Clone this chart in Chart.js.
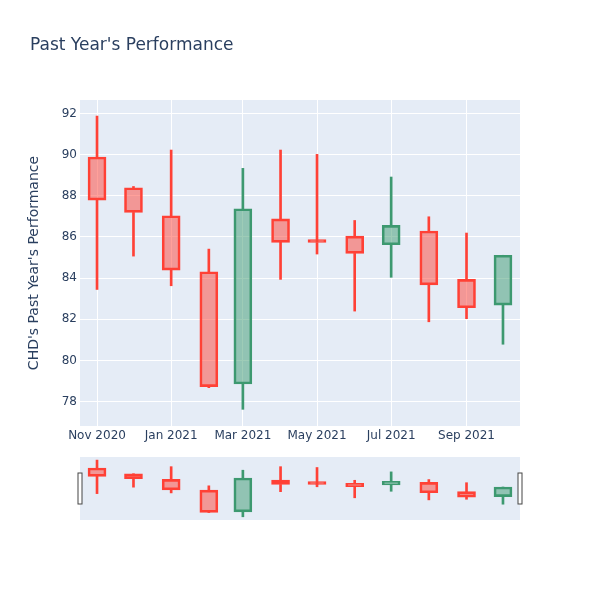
<!DOCTYPE html>
<html>
<head>
<meta charset="utf-8">
<script src="https://cdn.jsdelivr.net/npm/chart.js@4/dist/chart.umd.min.js"></script>
<style>
  body { margin: 0; background: #fff; }
  #wrap { position: relative; width: 600px; height: 600px; }
  #title { position: absolute; left: 30px; top: 34px; font: 17px "DejaVu Sans", sans-serif; color: #2a3f5f; line-height: 20px; }
  #main { position: absolute; left: 0; top: 0; }
  #slider { position: absolute; left: 0; top: 450px; }
</style>
</head>
<body>
<div id="wrap">
  <canvas id="main" width="600" height="450"></canvas>
  <canvas id="slider" width="600" height="80"></canvas>
  <div id="title">Past Year's Performance</div>
</div>
<script>
const dates = ['2020-11-01', '2020-12-01', '2021-01-01', '2021-02-01', '2021-03-01', '2021-04-01',
               '2021-05-01', '2021-06-01', '2021-07-01', '2021-08-01', '2021-09-01', '2021-10-01'];
const openVals  = [89.88, 88.39, 87.03, 84.31, 78.86, 86.88, 85.77, 86.04, 85.62, 86.29, 83.94, 82.69];
const highVals  = [91.87, 88.45, 90.22, 85.41, 89.33, 90.22, 90.01, 86.80, 88.91, 86.98, 86.19, 85.11];
const lowVals   = [83.45, 85.07, 83.63, 78.68, 77.63, 83.94, 85.17, 82.40, 84.04, 81.88, 82.03, 80.79];
const closeVals = [87.79, 87.19, 84.39, 78.73, 87.37, 85.74, 85.73, 85.20, 86.56, 83.67, 82.56, 85.11];

const xTickDates = ['2020-11-01', '2021-01-01', '2021-03-01', '2021-05-01', '2021-07-01', '2021-09-01'];
const xTickLabels = ['Nov 2020', 'Jan 2021', 'Mar 2021', 'May 2021', 'Jul 2021', 'Sep 2021'];
const yTicks = [78, 80, 82, 84, 86, 88, 90, 92];
const xRange = ['2020-10-18', '2021-10-15'];
const yRange = [76.82, 92.65];

const UP = '#3D9970', DOWN = '#FF4136';
const UP_FILL = 'rgba(61,153,112,0.5)', DOWN_FILL = 'rgba(255,65,54,0.5)';
const FONT = '"DejaVu Sans", sans-serif';
const TEXT = '#2a3f5f';

const day = s => Date.UTC(+s.slice(0, 4), +s.slice(5, 7) - 1, +s.slice(8, 10)) / 86400000;
const xs = dates.map(day);
const isUp = openVals.map((o, i) => closeVals[i] >= o);
const lineCol = isUp.map(u => u ? UP : DOWN);
const fillCol = isUp.map(u => u ? UP_FILL : DOWN_FILL);

function candleSets() {
  return [
    {
      label: 'body',
      data: xs.map((x, i) => ({ x: x, y: [openVals[i], closeVals[i]] })),
      backgroundColor: fillCol,
      borderColor: lineCol,
      borderWidth: 2,
      borderSkipped: false,
      barThickness: 18,
      minBarLength: 3,
      grouped: false,
      order: 0
    },
    {
      label: 'upper',
      data: xs.map((x, i) => ({ x: x, y: [Math.max(openVals[i], closeVals[i]), highVals[i]] })),
      backgroundColor: lineCol,
      borderWidth: 0,
      barThickness: 2,
      grouped: false,
      order: 1
    },
    {
      label: 'lower',
      data: xs.map((x, i) => ({ x: x, y: [lowVals[i], Math.min(openVals[i], closeVals[i])] })),
      backgroundColor: lineCol,
      borderWidth: 0,
      barThickness: 2,
      grouped: false,
      order: 1
    }
  ];
}

const plotBg = {
  id: 'plotBg',
  beforeDraw(chart) {
    const a = chart.chartArea, ctx = chart.ctx;
    ctx.save();
    ctx.fillStyle = '#E5ECF6';
    ctx.fillRect(a.left, a.top, a.right - a.left, a.bottom - a.top);
    ctx.restore();
  }
};

new Chart(document.getElementById('main'), {
  type: 'bar',
  data: { datasets: candleSets() },
  options: {
    responsive: false,
    animation: false,
    layout: { padding: { top: 100, right: 80, left: 0, bottom: 0 } },
    plugins: { legend: { display: false }, tooltip: { enabled: false } },
    scales: {
      x: {
        type: 'linear',
        offset: false,
        min: day(xRange[0]),
        max: day(xRange[1]),
        grid: { color: '#ffffff', lineWidth: 1, drawTicks: false, offset: false },
        border: { display: false },
        afterBuildTicks: s => { s.ticks = xTickDates.map(d => ({ value: day(d) })); },
        afterFit: s => { s.height = 24; },
        ticks: {
          padding: 3,
          color: TEXT,
          font: { family: FONT, size: 12 },
          maxRotation: 0,
          autoSkip: false,
          callback: (v, i) => xTickLabels[i]
        }
      },
      y: {
        min: yRange[0],
        max: yRange[1],
        grid: { color: '#ffffff', lineWidth: 1, drawTicks: false },
        border: { display: false },
        afterBuildTicks: s => { s.ticks = yTicks.map(v => ({ value: v })); },
        afterFit: s => { s.width = 80; },
        ticks: {
          padding: 3,
          color: TEXT,
          font: { family: FONT, size: 12 },
          callback: v => String(v)
        },
        title: {
          display: true,
          text: "CHD's Past Year's Performance",
          color: TEXT,
          font: { family: FONT, size: 14 },
          padding: { top: 26, bottom: 0 }
        }
      }
    }
  },
  plugins: [plotBg]
});

const grabbers = {
  id: 'grabbers',
  afterDraw(chart) {
    const a = chart.chartArea, ctx = chart.ctx;
    const mid = (a.top + a.bottom) / 2;
    ctx.save();
    ctx.fillStyle = '#ffffff';
    ctx.strokeStyle = '#444444';
    ctx.lineWidth = 1;
    [a.left - 2, a.right - 2].forEach(x => {
      ctx.fillRect(x, mid - 16, 4, 32);
      ctx.strokeRect(x + 0.5 - 0.5, mid - 16 + 0.5, 4, 31);
    });
    ctx.restore();
  }
};

new Chart(document.getElementById('slider'), {
  type: 'bar',
  data: { datasets: candleSets() },
  options: {
    responsive: false,
    animation: false,
    layout: { padding: { top: 7, right: 80, left: 80, bottom: 10 } },
    plugins: { legend: { display: false }, tooltip: { enabled: false } },
    scales: {
      x: {
        type: 'linear',
        display: false,
        offset: false,
        min: day(xRange[0]),
        max: day(xRange[1]),
        grid: { offset: false }
      },
      y: { display: false, min: yRange[0], max: yRange[1] }
    }
  },
  plugins: [plotBg, grabbers]
});
</script>
</body>
</html>
